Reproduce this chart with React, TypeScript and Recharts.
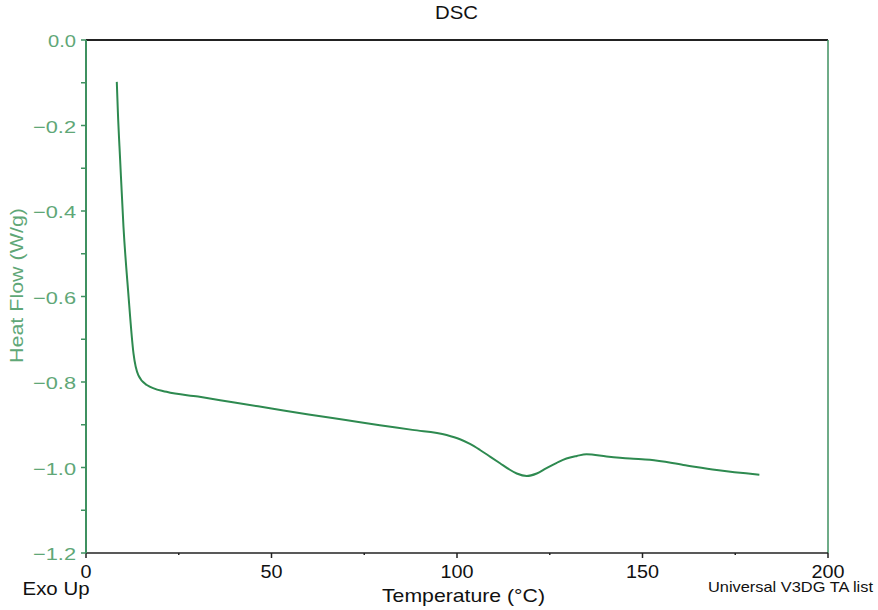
import React from "react";
import { LineChart, Line, XAxis, YAxis, ReferenceLine } from "recharts";

const temperature = [8.3, 8.6, 9.2, 10.1, 11.4, 12.8, 14.1, 16.4, 21.7, 30.2, 40, 50, 60, 70, 79.2, 88, 97.2, 100.8, 103.5, 106.2, 109, 111.6, 114, 116.1, 118.8, 121.5, 124, 126.9, 129.5, 132.3, 134.9, 140.3, 146.6, 152, 161, 170, 181.5];
const heatFlow = [-0.098, -0.17, -0.28, -0.437, -0.592, -0.733, -0.784, -0.807, -0.823, -0.834, -0.848, -0.862, -0.876, -0.889, -0.901, -0.912, -0.924, -0.934, -0.945, -0.959, -0.975, -0.99, -1.004, -1.014, -1.02, -1.014, -1.002, -0.989, -0.979, -0.973, -0.969, -0.974, -0.979, -0.982, -0.994, -1.006, -1.017];
const xTicks = [0, 25, 50, 75, 100, 125, 150, 175, 200];
const xLabeled = [0, 50, 100, 150, 200];
const yTicks = [0, -0.1, -0.2, -0.3, -0.4, -0.5, -0.6, -0.7, -0.8, -0.9, -1.0, -1.1, -1.2];
const yLabeled = [0, -0.2, -0.4, -0.6, -0.8, -1.0, -1.2];

const data = temperature.map((t, i) => ({ t, hf: heatFlow[i] }));

const GREEN_TEXT = "#5fa777";
const GREEN_AXIS = "#3f9160";
const LINE = "#2e8a50";
const FONT = "'Liberation Sans', Arial, sans-serif";

const fmtY = (v: number) => (v < -1e-9 ? "\u2212" + Math.abs(v).toFixed(1) : "0.0");

const YTick = (props: any) => {
  const { x, y, payload } = props;
  const v = payload.value;
  const major = yLabeled.some((m) => Math.abs(m - v) < 1e-6);
  const s = fmtY(v);
  return (
    <g>
      <line x1={x - 5} x2={x} y1={y} y2={y} stroke={GREEN_AXIS} strokeWidth={1.5} />
      {major && (
        <text
          x={x - 10}
          y={y}
          dy={7}
          textAnchor="end"
          fill={GREEN_TEXT}
          fontSize={17}
          fontFamily={FONT}
          textLength={s.length === 3 ? 28 : 43}
          lengthAdjust="spacingAndGlyphs"
        >
          {s}
        </text>
      )}
    </g>
  );
};

const XTick = (props: any) => {
  const { x, y, payload } = props;
  const v = payload.value;
  const major = xLabeled.includes(v);
  const s = String(v);
  return (
    <g>
      <line x1={x} x2={x} y1={y} y2={y + (major ? 5 : 2)} stroke="#222" strokeWidth={1.5} />
      {major && (
        <text
          x={x}
          y={y}
          dy={25}
          textAnchor="middle"
          fill="#111"
          fontSize={18}
          fontFamily={FONT}
          textLength={s.length * 11}
          lengthAdjust="spacingAndGlyphs"
        >
          {s}
        </text>
      )}
    </g>
  );
};

export default function App() {
  return (
    <div style={{ position: "absolute", left: 0, top: 0, width: 878, height: 610, background: "#fff" }}>
      <LineChart width={878} height={610} data={data} margin={{ top: 40, right: 50, bottom: 0, left: 26 }}>
        <XAxis
          dataKey="t"
          type="number"
          domain={[0, 200]}
          ticks={xTicks}
          tick={<XTick />}
          tickLine={false}
          tickSize={0}
          tickMargin={0}
          height={57}
          stroke="#222"
          strokeWidth={1.5}
          allowDataOverflow
        />
        <YAxis
          type="number"
          domain={[-1.2, 0]}
          ticks={yTicks}
          tick={<YTick />}
          tickLine={false}
          tickSize={0}
          tickMargin={0}
          width={60}
          stroke={GREEN_AXIS}
          strokeWidth={2}
          allowDataOverflow
        />
        <ReferenceLine y={0} stroke="#222" strokeWidth={2} />
        <ReferenceLine x={200} stroke={GREEN_AXIS} strokeWidth={1.5} />
        <Line dataKey="hf" type="monotone" stroke={LINE} strokeWidth={2} dot={false} isAnimationActive={false} />
        <text x={456.5} y={19} textAnchor="middle" fill="#111" fontSize={19} fontFamily={FONT} textLength={43} lengthAdjust="spacingAndGlyphs">DSC</text>
        <text x={22.5} y={595} textAnchor="start" fill="#111" fontSize={18} fontFamily={FONT} textLength={67} lengthAdjust="spacingAndGlyphs">Exo Up</text>
        <text x={463.5} y={602} textAnchor="middle" fill="#111" fontSize={19} fontFamily={FONT} textLength={163} lengthAdjust="spacingAndGlyphs">Temperature (°C)</text>
        <text x={873} y={592} textAnchor="end" fill="#111" fontSize={14.5} fontFamily={FONT} textLength={165} lengthAdjust="spacingAndGlyphs">Universal V3DG TA list</text>
        <text x={0} y={0} transform="translate(23,285.5) rotate(-90)" textAnchor="middle" fill={GREEN_TEXT} fontSize={18} fontFamily={FONT} textLength={155} lengthAdjust="spacingAndGlyphs">Heat Flow (W/g)</text>
      </LineChart>
    </div>
  );
}
